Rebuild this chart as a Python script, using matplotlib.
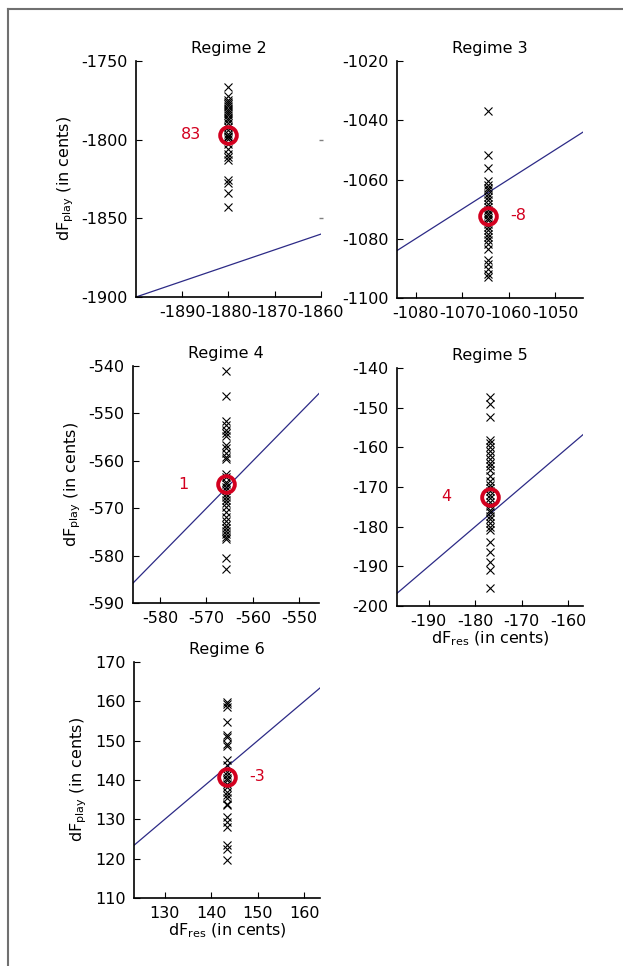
import numpy as np
import matplotlib.pyplot as plt
from matplotlib.lines import Line2D

plt.rcParams['font.family'] = ['DejaVu Sans']
plt.rcParams['mathtext.fontset'] = 'dejavusans'
plt.rcParams['axes.unicode_minus'] = False

# data
regimes = ['Regime 2', 'Regime 3', 'Regime 4', 'Regime 5', 'Regime 6']
res_freq = [-1880.0, -1064.4, -565.8, -176.9, 143.4]
play_mean = [-1797.0, -1072.2, -564.9, -172.4, 140.8]
mean_labels = ['83', '-8', '1', '4', '-3']

play_r2 = [-1766.5, -1772.2, -1775, -1776, -1777.5, -1778.8, -1780.3, -1781.8, -1783,
           -1784.5, -1786, -1787.7, -1789.4, -1792, -1794, -1796.2, -1797.5, -1798.3,
           -1799.5, -1802.5, -1805.7, -1808.9, -1811, -1813, -1825.8, -1827.5, -1834, -1842.8]
play_r3 = [-1037, -1051.6, -1056.1, -1060.6, -1061.7, -1062.8, -1063.7, -1064.8, -1065.9,
           -1067, -1068.2, -1069.3, -1070.4, -1071.3, -1072.1, -1072.9, -1073.8, -1074.9,
           -1076, -1077.2, -1078.3, -1079.4, -1080.3, -1081.7, -1083.3, -1087.3, -1088.4,
           -1090.1, -1091.8, -1092.9]
play_r4 = [-541, -546.3, -551.6, -552.5, -553.5, -554.2, -554.8, -556.7, -557.4, -558.4,
           -559.1, -559.7, -562.7, -563.4, -564.4, -564.9, -565.5, -566.2, -566.9, -567.6,
           -568.3, -569, -569.7, -570.7, -571.8, -572.8, -573.5, -574.2, -574.9, -575.4,
           -576, -576.5, -580.5, -582.8]
play_r5 = [-147.4, -149, -152.4, -158.1, -158.9, -159.8, -160.8, -161.9, -163, -164,
           -164.8, -165.7, -167.3, -168.6, -169.5, -170.3, -171.1, -172, -172.8, -173.7,
           -174.9, -175.8, -176.4, -177.3, -178.1, -179, -180, -180.8, -183.8, -186.3,
           -188.8, -190.9, -195.5]
play_r6 = [159.8, 159.2, 158.6, 154.7, 151.4, 150.9, 149.2, 148.6, 145.2, 143.7, 142,
           141.2, 140.6, 139.9, 139.1, 138.2, 137, 136.1, 135.3, 134, 133.6, 130.6, 129.3,
           128.1, 123.6, 122.4, 119.7]
play_all = [play_r2, play_r3, play_r4, play_r5, play_r6]

xlims = [(-1900, -1860), (-1084, -1044), (-585.8, -545.8), (-196.8, -156.8), (123.4, 163.4)]
ylims = [(-1900, -1750), (-1100, -1020), (-590, -540), (-200, -140), (110, 170)]
xticks = [[-1890, -1880, -1870, -1860], [-1080, -1070, -1060, -1050],
          [-580, -570, -560, -550], [-190, -180, -170, -160], [130, 140, 150, 160]]
yticks = [[-1900, -1850, -1800, -1750], [-1100, -1080, -1060, -1040, -1020],
          [-590, -580, -570, -560, -550, -540], [-200, -190, -180, -170, -160, -150, -140],
          [110, 120, 130, 140, 150, 160, 170]]
r2_right_ticks = [-1800, -1850]

# layout
W, H = 623, 966
boxes = [(136, 321, 61, 297), (397, 583, 61, 298), (133, 319, 366, 603),
         (397, 583, 368, 606), (134, 320, 662, 898)]
label_off = [-27, 22, -31, -31, 22]
show_ylabel = [True, False, True, False, True]
show_xlabel = [False, False, False, True, True]

red = '#d3001f'
navy = '#2c2a86'
fs = 11.5

fig = plt.figure(figsize=(W / 100, H / 100), dpi=100)
fig.add_artist(Line2D([8 / W, 8 / W], [0, 1 - 9 / H], color='#707070', lw=1.5))
fig.add_artist(Line2D([8 / W, 1], [1 - 9 / H, 1 - 9 / H], color='#707070', lw=1.5))

for i in range(5):
    l, r, t, b = boxes[i]
    ax = fig.add_axes([l / W, 1 - b / H, (r - l) / W, (b - t) / H])
    ax.plot(xlims[i], xlims[i], color=navy, lw=0.9)
    ax.plot([res_freq[i]] * len(play_all[i]), play_all[i], 'x', color='black',
            ms=5.5, mew=0.8)
    ax.plot(res_freq[i], play_mean[i], 'o', mfc='none', mec=red, ms=12, mew=2.8)
    ax.annotate(mean_labels[i], (res_freq[i], play_mean[i]), xytext=(label_off[i], 0),
                textcoords='offset points', ha='center', va='center', color=red, fontsize=fs)
    if i == 0:
        ax.plot([xlims[i][1]] * 2, r2_right_ticks, '_', color='#808080', ms=2.5, mew=1,
                clip_on=False)
    ax.set_xlim(xlims[i])
    ax.set_ylim(ylims[i])
    ax.set_xticks(xticks[i])
    ax.set_yticks(yticks[i])
    ax.set_title(regimes[i], fontsize=fs, pad=6)
    for s in ['top', 'right']:
        ax.spines[s].set_visible(False)
    ax.spines['left'].set_linewidth(1.2)
    ax.spines['bottom'].set_linewidth(1.2)
    ax.tick_params(direction='in', length=4, width=0.8, labelsize=fs, pad=6)
    if show_ylabel[i]:
        ax.set_ylabel(r'dF$_{\mathrm{play}}$ (in cents)', fontsize=fs, labelpad=4)
    if show_xlabel[i]:
        ax.set_xlabel(r'dF$_{\mathrm{res}}$ (in cents)', fontsize=fs, labelpad=0)

fig.savefig('out.png', dpi=100)
